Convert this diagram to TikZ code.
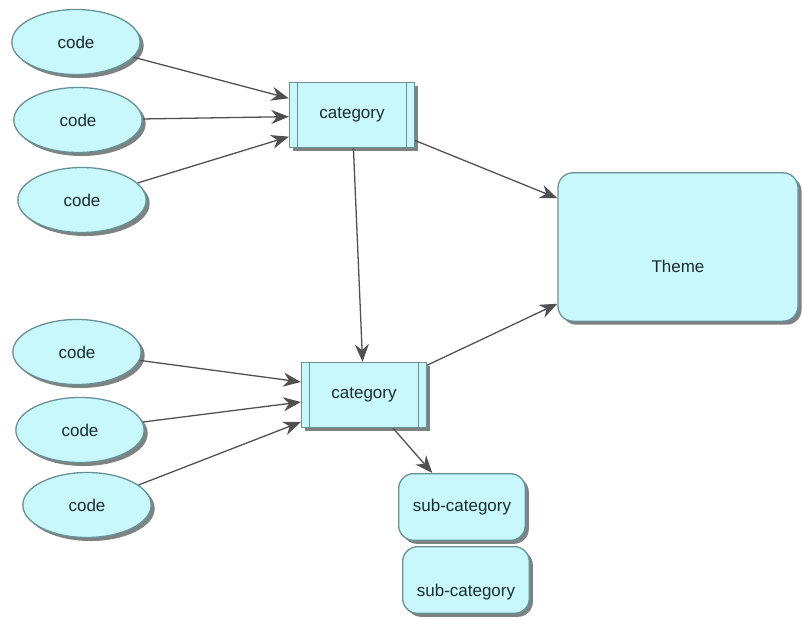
\documentclass[tikz,border=0pt]{standalone}
\usepackage{fontspec}
\setmainfont{Liberation Sans}
\usetikzlibrary{shapes.geometric,shadows,arrows.meta}
\definecolor{boxfill}{RGB}{200,248,252}
\definecolor{boxline}{RGB}{105,145,148}
\definecolor{shade}{RGB}{125,130,130}
\definecolor{arrowgray}{RGB}{80,80,80}
\definecolor{txt}{RGB}{25,45,50}
\begin{document}
\begin{tikzpicture}[x=0.03cm,y=-0.03cm,line join=round,>={Stealth[length=15pt,width=12pt]},
	base/.style={draw=boxline,line width=1.1pt,fill=boxfill,text=txt,font=\fontsize{14.5}{17}\selectfont,
		drop shadow={shadow xshift=3pt,shadow yshift=-3pt,fill=shade,opacity=1}},
	codenode/.style={base,ellipse,minimum width=3.85cm,minimum height=1.95cm,inner sep=0pt},
	catnode/.style={base,rectangle,minimum width=3.75cm,minimum height=1.95cm,
		path picture={\draw[boxline,line width=1.1pt]
			([xshift=0.24cm]path picture bounding box.north west) -- ([xshift=0.24cm]path picture bounding box.south west)
			([xshift=-0.24cm]path picture bounding box.north east) -- ([xshift=-0.24cm]path picture bounding box.south east);}},
	subnode/.style={base,rectangle,rounded corners=0.45cm,minimum width=3.8cm,minimum height=2cm},
	link/.style={->,draw=arrowgray,line width=1.1pt}]
	\useasboundingbox (0,0) rectangle (803,626);
	% codes
	\foreach \i/\x/\y in {1/76/42,2/78/120,3/82/200,4/77/352,5/80/430,6/87/505}
	\node[codenode] (c\i) at (\x,\y) {code};
	% categories and theme
	\node[catnode] (cat1) at (352,115) {category};
	\node[catnode] (cat2) at (364,395) {category};
	\node[subnode,minimum width=7.2cm,minimum height=4.45cm,text height=1.56cm,text depth=0pt] (theme) at (678,247) {Theme};
	\node[subnode] (sub1) at (462,507) {sub-category};
	\node[subnode,text height=0.96cm,text depth=0pt] (sub2) at (466,580) {sub-category};
	% links
	\foreach \i/\s in {1/0.5cm,2/-0.05cm,3/-0.65cm}
	\draw[link] (c\i) -- ([yshift=\s]cat1.west);
	\foreach \i/\s in {4/0.39cm,5/-0.21cm,6/-0.81cm}
	\draw[link] (c\i) -- ([yshift=\s]cat2.west);
	\draw[link] (cat1) -- (cat2);
	\draw[link] (cat1) -- (theme);
	\draw[link] (cat2) -- (theme);
	\draw[link] (cat2) -- (sub1);
\end{tikzpicture}
\end{document}
